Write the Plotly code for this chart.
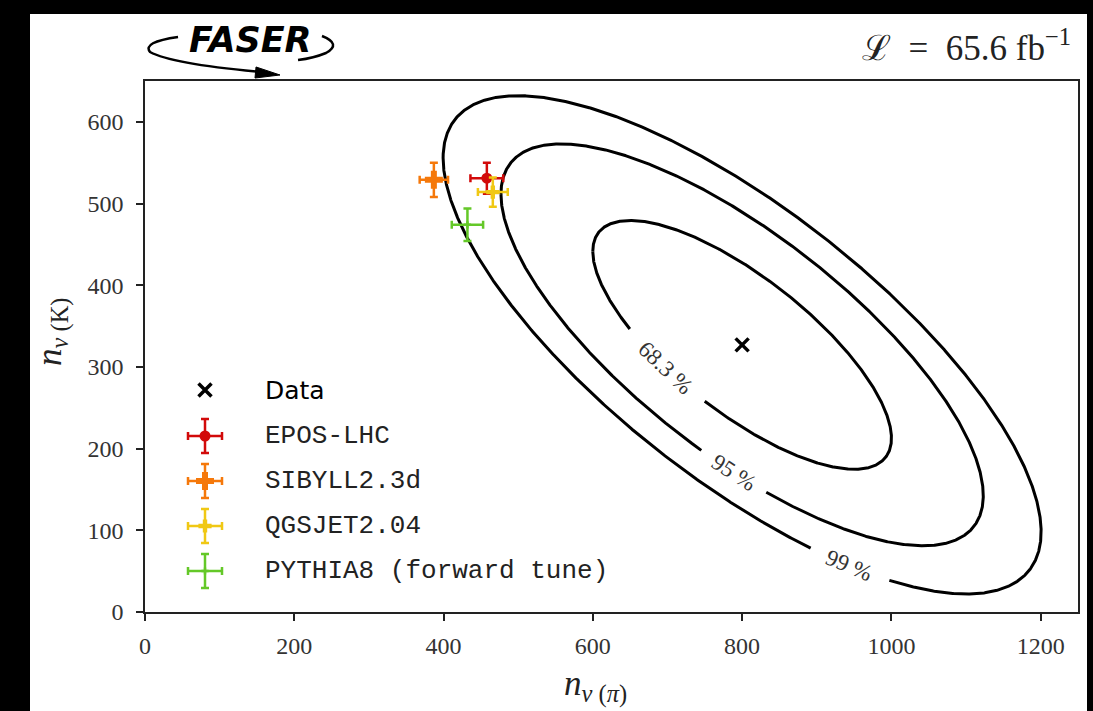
import numpy as np
import plotly.graph_objects as go

# ---- measured neutrino yields (pion vs kaon component) ----
data_pi = 800.0
data_k = 327.0
sigma_pi = 132.0
sigma_k = 100.5
rho = -0.75

cl_levels = [68.3, 95.0, 99.0]
cl_labels = ["68.3 %", "95 %", "99 %"]
cl_label_phase = [-121.0, -92.0, -69.0]      # position of each label along its ellipse (deg)
cl_label_gap = [52, 38, 42]                  # half-gap in the line around each label (px)

# ---- generator predictions ----
models = ["EPOS-LHC", "SIBYLL2.3d", "QGSJET2.04", "PYTHIA8 (forward tune)"]
model_pi = [458, 387, 466, 432]
model_pi_err = [22, 19, 20, 21]
model_k = [531, 529, 514, 474]
model_k_err = [19, 21, 18, 20]
model_colors = ["#d20a0a", "#f5780a", "#f0c814", "#64c828"]
model_symbols = ["circle", "cross", "cross", "cross"]
model_sizes = [11, 15, 11, 6]

x_ticks = [0, 200, 400, 600, 800, 1000, 1200]
y_ticks = [0, 100, 200, 300, 400, 500, 600]
x_range = [0, 1250]
y_range = [0, 650]

# ---- page geometry ----
W, H = 1093, 711
ML, MR, MT, MB = 145, 15, 81, 99
PW, PH = W - ML - MR, H - MT - MB
sx = PW / (x_range[1] - x_range[0])
sy = PH / (y_range[1] - y_range[0])


def to_px(x, y):
    return ML + (x - x_range[0]) * sx, MT + (y_range[1] - y) * sy


def paper(px, py):
    return (px - ML) / PW, (H - MB - py) / PH


SERIF = "Liberation Serif, DejaVu Serif, serif"
MONO = "Liberation Mono, DejaVu Sans Mono, monospace"

fig = go.Figure()

# ---- confidence ellipses ----
s = np.sqrt(1 - rho ** 2)
t = np.linspace(-np.pi, np.pi, 1441)
annotations = []
for cl, lab, ph, gap in zip(cl_levels, cl_labels, cl_label_phase, cl_label_gap):
    k = np.sqrt(-2 * np.log(1 - cl / 100.0))
    ex = data_pi + k * sigma_pi * np.cos(t)
    ey = data_k + k * sigma_k * (rho * np.cos(t) + s * np.sin(t))
    tl = np.radians(ph)
    lx = data_pi + k * sigma_pi * np.cos(tl)
    ly = data_k + k * sigma_k * (rho * np.cos(tl) + s * np.sin(tl))
    lpx, lpy = to_px(lx, ly)
    epx, epy = to_px(ex, ey)
    far = np.hypot(epx - lpx, epy - lpy) > gap
    xs = np.where(far, ex, np.nan)
    ys = np.where(far, ey, np.nan)
    fig.add_trace(go.Scatter(x=xs, y=ys, mode="lines", connectgaps=False,
                             line=dict(color="black", width=3), hoverinfo="skip",
                             showlegend=False))
    dxp = -k * sigma_pi * np.sin(tl) * sx
    dyp = -k * sigma_k * (-rho * np.sin(tl) + s * np.cos(tl)) * sy
    ang = np.degrees(np.arctan2(dyp, dxp))
    if ang > 90:
        ang -= 180
    if ang < -90:
        ang += 180
    annotations.append(dict(x=lx, y=ly, xref="x", yref="y", text=lab, showarrow=False,
                            textangle=ang, font=dict(family=SERIF, size=23, color="#333"),
                            xanchor="center", yanchor="middle"))

# ---- generator points ----
for name, xp, xe, yp, ye, c, sym, sz in zip(models, model_pi, model_pi_err, model_k,
                                             model_k_err, model_colors, model_symbols,
                                             model_sizes):
    fig.add_trace(go.Scatter(
        x=[xp], y=[yp], mode="markers", name=name, showlegend=False,
        marker=dict(color=c, symbol=sym, size=sz, line=dict(width=0)),
        error_x=dict(type="data", array=[xe], color=c, thickness=2.5, width=4),
        error_y=dict(type="data", array=[ye], color=c, thickness=2.5, width=4)))

# ---- data point ----
fig.add_trace(go.Scatter(x=[data_pi], y=[data_k], mode="markers", name="Data",
                         showlegend=False,
                         marker=dict(symbol="x-thin", size=13, color="black",
                                     line=dict(width=3.5, color="black"))))

# ---- legend drawn on a pixel-scaled overlay axis ----
leg_x = 205
leg_text_x = 263
leg_y = [390, 436, 481, 526, 571]
fig.add_trace(go.Scatter(x=[leg_x], y=[leg_y[0]], xaxis="x2", yaxis="y2", mode="markers",
                         showlegend=False, hoverinfo="skip",
                         marker=dict(symbol="x-thin", size=13, color="black",
                                     line=dict(width=3.5, color="black"))))
annotations.append(dict(x=leg_text_x, y=leg_y[0], xref="x2", yref="y2", text="Data",
                        showarrow=False, xanchor="left", yanchor="middle",
                        font=dict(family="DejaVu Sans, sans-serif", size=25, color="black")))
for i, (name, c, sym, sz) in enumerate(zip(models, model_colors, model_symbols, model_sizes)):
    yy = leg_y[i + 1]
    fig.add_trace(go.Scatter(
        x=[leg_x], y=[yy], xaxis="x2", yaxis="y2", mode="markers", showlegend=False,
        hoverinfo="skip",
        marker=dict(color=c, symbol=sym, size=sz, line=dict(width=0)),
        error_x=dict(type="constant", value=17, color=c, thickness=2.5, width=4),
        error_y=dict(type="constant", value=17, color=c, thickness=2.5, width=4)))
    annotations.append(dict(x=leg_text_x, y=yy, xref="x2", yref="y2", text=name,
                            showarrow=False, xanchor="left", yanchor="middle",
                            font=dict(family=MONO, size=26, color="#222")))

# ---- axis titles ----
px_, py_ = paper(595, 686)
annotations.append(dict(x=px_, y=py_, xref="paper", yref="paper",
                        text="<i>n</i><sub><i>ν</i> (<i>π</i>)</sub>", showarrow=False,
                        font=dict(family=SERIF, size=35, color="#222"),
                        xanchor="center", yanchor="middle"))
px_, py_ = paper(52, 332)
annotations.append(dict(x=px_, y=py_, xref="paper", yref="paper",
                        text="<i>n</i><sub><i>ν</i> (K)</sub>", showarrow=False, textangle=-90,
                        font=dict(family=SERIF, size=35, color="#222"),
                        xanchor="center", yanchor="middle"))

# ---- luminosity ----
px_, py_ = paper(1073, 46)
annotations.append(dict(x=px_, y=py_, xref="paper", yref="paper",
                        text="ℒ\u2002=\u200265.6 fb<sup>−1</sup>", showarrow=False,
                        font=dict(family=SERIF, size=35, color="#222"),
                        xanchor="right", yanchor="middle"))

# ---- FASER logo ----
px_, py_ = paper(250, 40)
annotations.append(dict(x=px_, y=py_, xref="paper", yref="paper",
                        text="<b><i>FASER</i></b>", showarrow=False,
                        font=dict(family="DejaVu Sans, sans-serif", size=35, color="black"),
                        xanchor="center", yanchor="middle"))


def path_from(points, cmds):
    out = []
    for cmd, pts in zip(cmds, points):
        seg = " ".join("{:.4f},{:.4f}".format(*paper(a, b)) for a, b in pts)
        out.append(cmd + " " + seg)
    return " ".join(out)


shapes = [
    dict(type="rect", xref="paper", yref="paper", layer="below",
         x0=paper(30, 0)[0], x1=paper(1087, 0)[0], y0=paper(0, 711)[1], y1=paper(0, 14)[1],
         fillcolor="white", line=dict(width=0)),
    dict(type="path", xref="paper", yref="paper",
         path=path_from([[(178, 37)], [(142, 42), (150, 52)], [(172, 64), (262, 72)]],
                        ["M", "Q", "Q"]),
         line=dict(color="black", width=2.5)),
    dict(type="path", xref="paper", yref="paper",
         path=path_from([[(322, 36)], [(342, 44), (326, 53)], [(314, 58), (298, 60)]],
                        ["M", "Q", "Q"]),
         line=dict(color="black", width=2.5)),
    dict(type="path", xref="paper", yref="paper",
         path=path_from([[(256, 67)], [(280, 75)], [(255, 78)]], ["M", "L", "L"]) + " Z",
         fillcolor="black", line=dict(color="black", width=1)),
]

axis_common = dict(showline=True, linecolor="#222", linewidth=1.6, mirror=True,
                   ticks="outside", ticklen=7, tickwidth=1.5, tickcolor="#222",
                   showgrid=False, zeroline=False,
                   tickfont=dict(family=SERIF, size=24, color="#333"))

fig.update_layout(
    width=W, height=H,
    margin=dict(l=ML, r=MR, t=MT, b=MB),
    paper_bgcolor="black", plot_bgcolor="white",
    xaxis=dict(range=x_range, tickvals=x_ticks, ticklabelstandoff=4, **axis_common),
    yaxis=dict(range=y_range, tickvals=y_ticks, ticklabelstandoff=8, **axis_common),
    xaxis2=dict(range=[ML, W - MR], overlaying="x", visible=False, fixedrange=True),
    yaxis2=dict(range=[H - MB, MT], overlaying="y", visible=False, fixedrange=True),
    annotations=annotations,
    shapes=shapes,
    showlegend=False,
)

fig.write_html("out.html")
